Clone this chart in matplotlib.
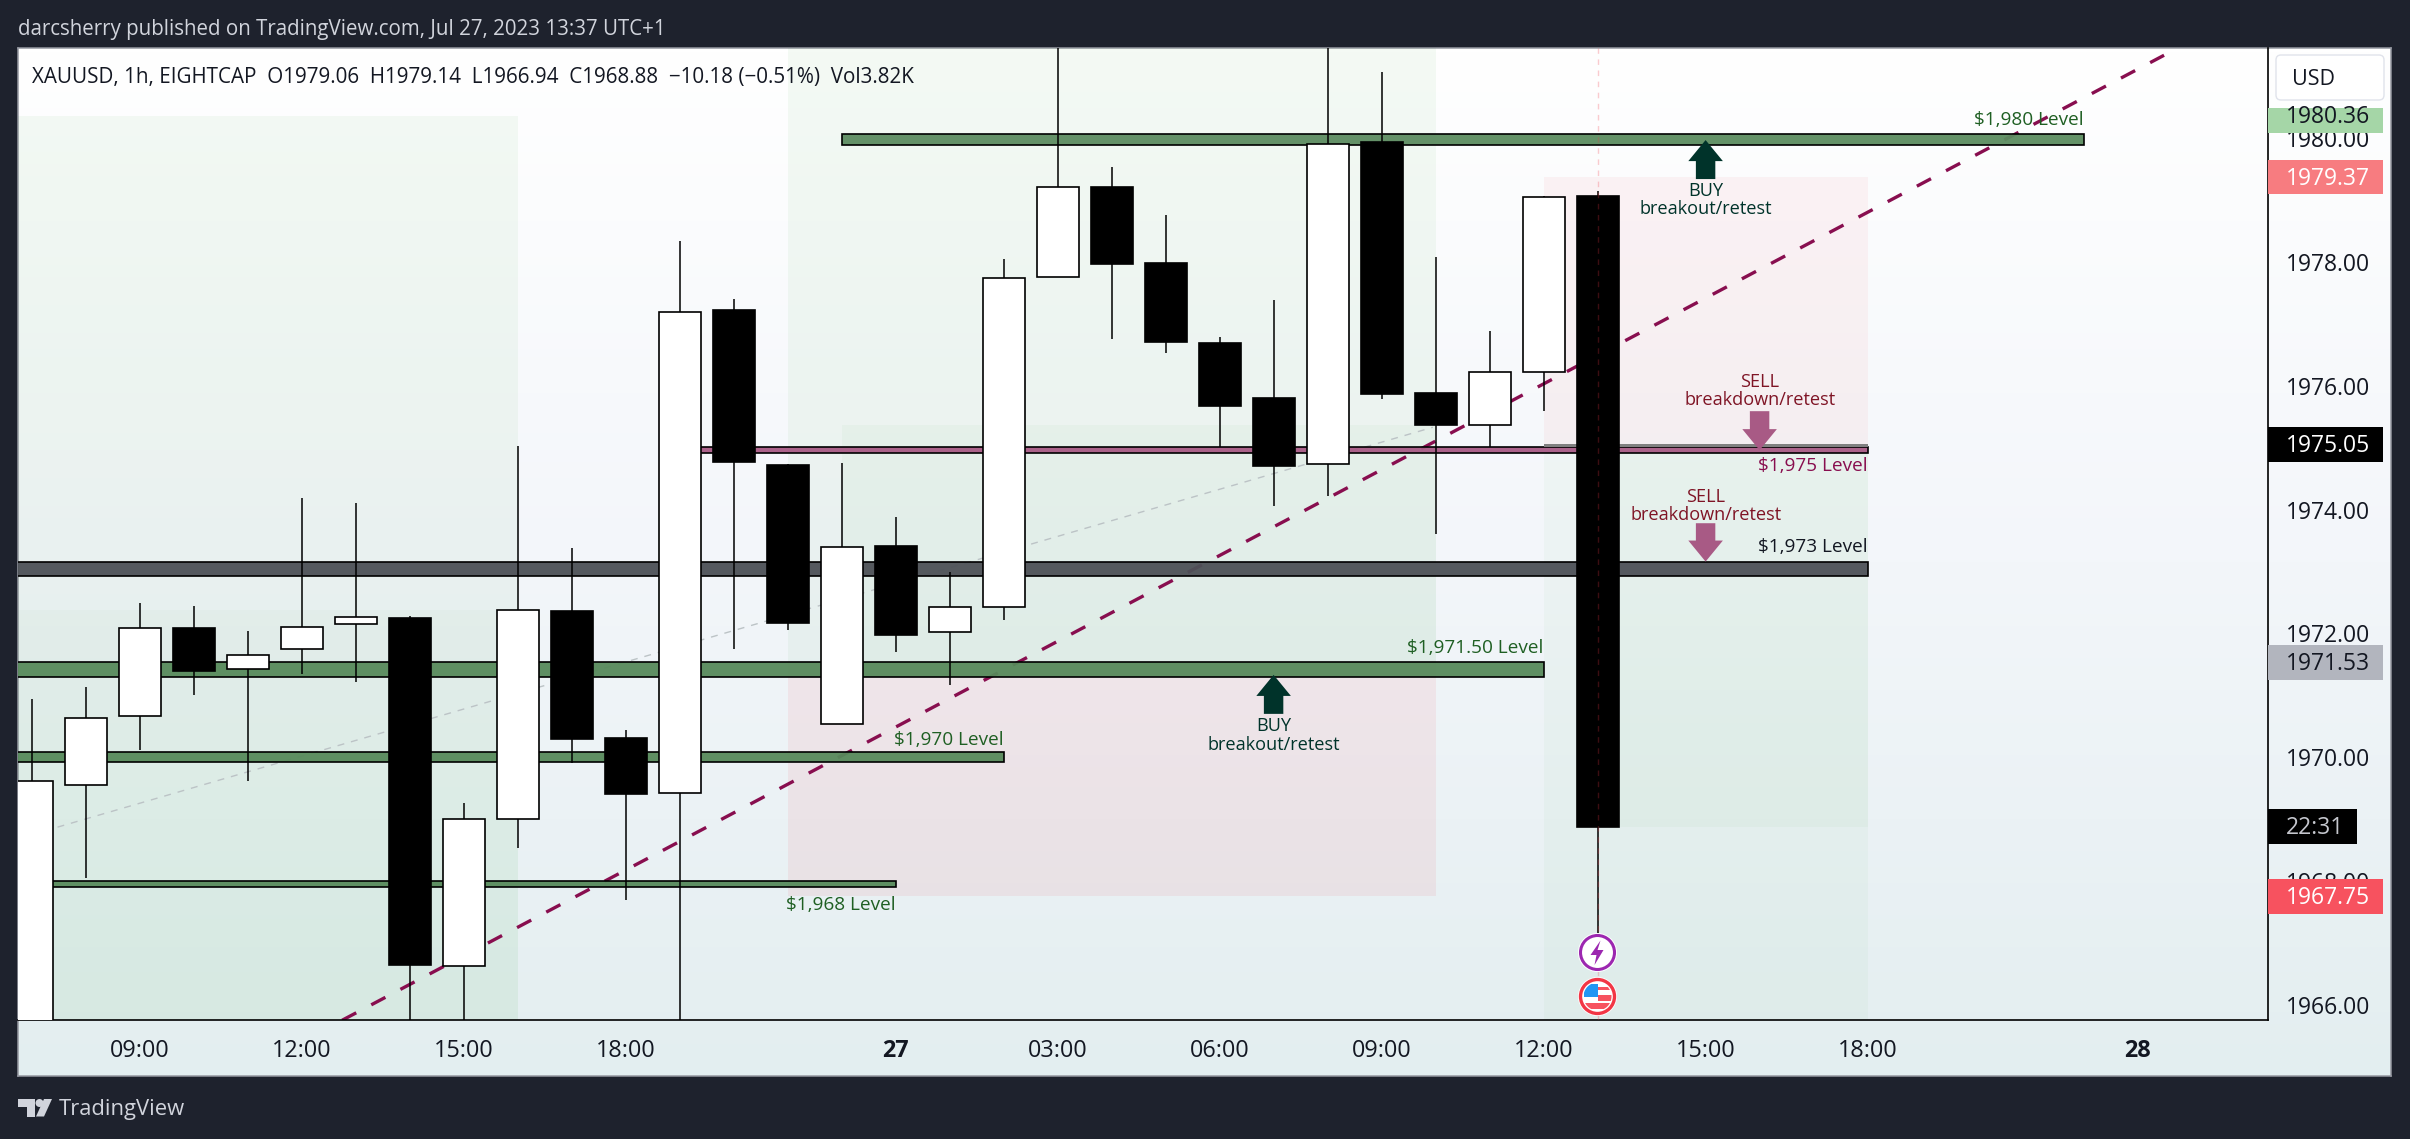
import matplotlib
matplotlib.use("Agg")
import numpy as np
import matplotlib.pyplot as plt
from matplotlib.patches import Rectangle, Circle, Polygon, FancyArrow, FancyBboxPatch
from matplotlib.colors import LinearSegmentedColormap
from matplotlib.transforms import blended_transform_factory

FONT = "Open Sans"
plt.rcParams["font.family"] = [FONT, "DejaVu Sans"]

# ---------- data (hourly bars, price in USD) ----------
opens  = [1965.2,1969.55,1970.67,1972.09,1971.42,1971.74,1972.15,1972.25,1966.62,1969.00,
          1972.36,1970.31,1969.42,1977.22,1974.72,1970.54,1973.41,1972.03,1972.42,1977.75,
          1979.21,1977.98,1976.69,1975.80,1974.73,1979.94,1975.88,1975.36,1976.23,1979.06]
highs  = [1970.94,1971.13,1972.49,1972.44,1972.04,1974.19,1974.11,1972.28,1969.26,1975.03,
          1973.38,1970.44,1978.34,1977.40,1974.74,1974.75,1973.88,1972.99,1978.05,1981.9,
          1979.53,1978.76,1976.79,1977.39,1981.9,1981.07,1978.08,1976.89,1979.07,1979.14]
lows   = [1964.8,1968.05,1970.12,1971.01,1969.62,1971.34,1971.22,1965.4,1965.5,1968.54,
          1969.90,1967.69,1965.4,1971.75,1972.06,1970.54,1971.70,1971.16,1972.22,1977.75,
          1976.75,1976.53,1975.01,1974.06,1974.22,1975.78,1973.61,1975.01,1975.60,1966.94]
closes = [1969.62,1970.63,1972.08,1971.40,1971.65,1972.11,1972.26,1966.65,1969.00,1972.37,
          1970.30,1969.41,1977.20,1974.77,1972.16,1973.39,1971.98,1972.42,1977.74,1979.21,
          1977.97,1976.70,1975.68,1974.71,1979.91,1975.86,1975.36,1976.23,1979.05,1968.88]

price_ticks = [1966,1968,1970,1972,1974,1976,1978,1980]
time_ticks  = [2,5,8,11,16,19,22,25,28,31,34,39]
time_labels = ["09:00","12:00","15:00","18:00","27","03:00","06:00","09:00","12:00","15:00","18:00","28"]

# zones: x0, x1, price0, price1, colour, alpha
zones = [(-2,9,1965,1980.36,"#4caf50",.06),(-2,9,1965,1972.38,"#4caf50",.03),
         (14,26,1971.53,1982,"#4caf50",.06),(15,26,1971.53,1975.37,"#4caf50",.04),
         (14,26,1967.75,1971.53,"#f23645",.08),
         (28,34,1975.05,1979.37,"#f23645",.05),(28,34,1965,1975.05,"#4caf50",.04),
         (29,34,1968.88,1975.05,"#4caf50",.04)]
# levels: x0, x1, price0, price1, fill
levels = [(15,38,1979.89,1980.07,"#5c8c60"),(12,34,1974.92,1975.01,"#a85a85"),
          (-2,34,1972.93,1973.15,"#4d5157"),(-2,28,1971.29,1971.53,"#578a5b"),
          (-2,18,1969.92,1970.08,"#578a5b"),(-2,16,1967.90,1968.00,"#578a5b")]
level_text = [("$1,980 Level",38,1980.29,"#1f5f23"),("$1,975 Level",34,1974.70,"#880e4f"),
              ("$1,973 Level",34,1973.40,"#131722"),("$1,971.50 Level",28,1971.77,"#1f5f23"),
              ("$1,970 Level",18,1970.27,"#1f5f23"),("$1,968 Level",16,1967.62,"#1f5f23")]
trend_x, trend_y = [5.75,39.49], [1965.75,1981.34]
faint_x, faint_y = [0.48,25.95], [1968.87,1975.33]
# arrows: bar, tail price, tip price, colour
arrows = [(31,1979.34,1979.97,"#00332a"),(23,1970.70,1971.33,"#00332a"),
          (32,1975.59,1974.96,"#a85a85"),(31,1973.78,1973.16,"#a85a85")]
notes = [("BUY\nbreakout/retest",31,1979.30,"top","#00332a"),("BUY\nbreakout/retest",23,1970.65,"top","#00332a"),
         ("SELL\nbreakdown/retest",32,1975.62,"bottom","#7f1425"),("SELL\nbreakdown/retest",31,1973.76,"bottom","#7f1425")]
tags = [(1979.37,"1979.37","#f77c80","#ffffff"),(1975.05,"1975.05","#000000","#ffffff"),
        (1971.53,"1971.53","#b2b5be","#131722"),(1967.75,"1967.75","#f7525f","#ffffff")]

W, H = 2410, 1139
fig = plt.figure(figsize=(W/100, H/100), dpi=100, facecolor="#1e222d")
def axpx(l, t, r, b, **k):
    return fig.add_axes([l/W, 1-b/H, (r-l)/W, (b-t)/H], **k)

# background panel
bg = axpx(18, 48, 2391, 1076, zorder=0)
cm = LinearSegmentedColormap.from_list("g", ["#ffffff", "#f3f6fa", "#e3eef0"])
bg.imshow(np.linspace(0, 1, 256)[:, None], aspect="auto", cmap=cm, extent=(0, 1, 0, 1))
bg.set_xticks([]); bg.set_yticks([])
for s in bg.spines.values():
    s.set_color("#9598a1"); s.set_linewidth(1.1)

# main chart
ax = axpx(18, 48, 2268, 1020, zorder=2)
ax.patch.set_alpha(0)
ax.set_xlim((18-31.6)/54, (2268-31.6)/54)
ax.set_ylim(1978-(1020-262)/61.9, 1978+(262-48)/61.9)
for k in ("top", "left"):
    ax.spines[k].set_visible(False)
for k in ("right", "bottom"):
    ax.spines[k].set_color("#000000"); ax.spines[k].set_linewidth(1.2)

for x0, x1, p0, p1, c, a in zones:
    ax.add_patch(Rectangle((x0, p0), x1-x0, p1-p0, fc=c, ec="none", alpha=a, zorder=1))
ax.plot(faint_x, faint_y, color="#bcc3c6", lw=1.0, ls=(0, (5, 5)), zorder=1.5)
ax.plot(trend_x, trend_y, color="#880e4f", lw=2.4, ls=(0, (4.8, 5.1)), zorder=2)
for x0, x1, p0, p1, c in levels:
    ax.add_patch(Rectangle((x0, p0), x1-x0, p1-p0, fc=matplotlib.colors.to_rgba(c, .95),
                           ec="#000000", lw=1.2, zorder=3))
ax.add_patch(Rectangle((28, 1975.01), 6, 0.05, fc="#808080", ec="none", zorder=3))

bars = np.arange(len(opens))
ax.vlines(bars, lows, highs, color="#000000", lw=1.1, zorder=4)
for i in bars:
    up = closes[i] >= opens[i]
    ax.add_patch(Rectangle((i-.39, min(opens[i], closes[i])), .78, abs(closes[i]-opens[i]),
                           fc="#ffffff" if up else "#000000", ec="#000000", lw=1.2, zorder=4.5))
ax.axvline(29, color="#f23645", alpha=.25, lw=1.0, ls=(0, (4, 4)), zorder=5)

for x, tail, tip, c in arrows:
    ax.add_patch(FancyArrow(x, tail, 0, tip-tail, width=.36, head_width=.64, head_length=.34,
                            length_includes_head=True, fc=c, ec="none", zorder=5.5))
FS = 13.1
for t, x, p, c in level_text:
    ax.text(x, p, t, color=c, ha="right", va="center", fontsize=13.7, zorder=6)
for t, x, p, va, c in notes:
    ax.text(x, p, t, color=c, ha="center", va=va, fontsize=FS, linespacing=1.05, zorder=6)

ax.set_xticks(time_ticks); ax.set_xticklabels(time_labels)
ax.tick_params(axis="x", length=0, pad=14, labelsize=16.8, labelcolor="#131722")
for lab, t in zip(ax.get_xticklabels(), time_labels):
    if len(t) == 2:
        lab.set_fontweight("bold")
ax.yaxis.tick_right()
ax.set_yticks(price_ticks); ax.set_yticklabels([f"{p:.2f}" for p in price_ticks])
ax.tick_params(axis="y", length=0, pad=13, labelsize=16.5, labelcolor="#131722")

# price tags
tr = blended_transform_factory(ax.transAxes, ax.transData)
fr = lambda px: (px-18)/(2268-18)
half = 17.3/61.9
def tag(p, text, fc, tc, right=2383, top=None):
    hi = p+half if top is None else top
    ax.add_patch(Rectangle((fr(2268), p-half), fr(right)-fr(2268), hi-p+half, transform=tr, fc=fc,
                           ec="none", clip_on=False, zorder=8))
    ax.text(fr(2286), p-1.5/61.9, text, transform=tr, color=tc, fontsize=16.5, ha="left", va="center",
            clip_on=False, zorder=9)
for p, t, fc, tc in tags:
    tag(p, t, fc, tc)
tag(1980.36, "1980.36", "#a5d6a7", "#131722", top=1980.36+ (116-108)/61.9)
tag(1968.88, "22:31", "#000000", "#c4c6cd", right=2357)

# decorations in pixel space
pix = fig.add_axes([0, 0, 1, 1], zorder=10)
pix.set_xlim(0, W); pix.set_ylim(H, 0); pix.axis("off"); pix.patch.set_alpha(0)
pix.text(18, 29.5, "darcsherry published on TradingView.com, Jul 27, 2023 13:37 UTC+1",
         color="#d1d4dc", fontsize=14.8, ha="left", va="center")
pix.text(32, 78, "XAUUSD, 1h, EIGHTCAP  O1979.06  H1979.14  L1966.94  C1968.88  \u221210.18 (\u22120.51%)  Vol3.82K",
         color="#131722", fontsize=14.9, ha="left", va="center")
pix.text(59, 1110, "TradingView", color="#d1d4dc", fontsize=15.8, ha="left", va="center")
pix.add_patch(Polygon([(18,1099),(35,1099),(35,1116.5),(27,1116.5),(27,1107),(18,1107)], fc="#d1d4dc", ec="none"))
pix.add_patch(Circle((39.5,1103), 4, fc="#d1d4dc", ec="none"))
pix.add_patch(Polygon([(44,1099),(52,1099),(44,1116.5),(36,1116.5)], fc="#d1d4dc", ec="none"))
pix.add_patch(FancyBboxPatch((2276,55), 108, 45, boxstyle="round,pad=0,rounding_size=5",
                             fc="#ffffff", ec="#e0e3eb", lw=1))
pix.text(2292, 79.5, "USD", color="#131722", fontsize=15.5, ha="left", va="center")

cx = 1597.5
pix.add_patch(Circle((cx,952.5), 19.5, fc="#ffffff", ec="none"))
pix.add_patch(Circle((cx,952.5), 17, fc="#ffffff", ec="#9c27b0", lw=2.2))
pix.add_patch(Polygon([(cx+3,940.5),(cx-7,955),(cx-1,955),(cx-3,965),(cx+6,950),(cx,950)], fc="#9c27b0", ec="none"))
pix.add_patch(Circle((cx,996.5), 19.5, fc="#ffffff", ec="none"))
clip = Circle((cx,996.5), 14, transform=pix.transData)
for (x0,y0,w,h,c) in [(-14,-13,14,13,"#2196f3"),(0,-10,14,3,"#f7525f"),(0,-2,14,6,"#f7525f"),
                      (-14,6,28,6,"#f7525f")]:
    r = Rectangle((cx+x0,996.5+y0), w, h, fc=c, ec="none"); pix.add_patch(r); r.set_clip_path(clip)
pix.add_patch(Circle((cx,996.5), 17, fc="none", ec="#f23645", lw=2.4))

fig.savefig("out.png", dpi=100, facecolor=fig.get_facecolor())
